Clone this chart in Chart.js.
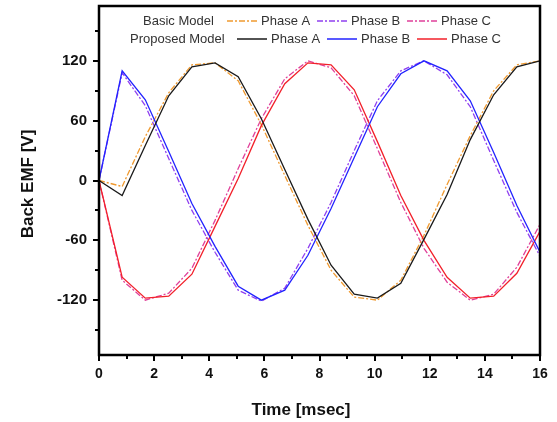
<!DOCTYPE html>
<html>
<head>
<meta charset="utf-8">
<script src="https://cdn.jsdelivr.net/npm/chart.js@4.4.1/dist/chart.umd.min.js"></script>
<style>
  html, body { margin: 0; padding: 0; background: #fff; }
</style>
</head>
<body>
<canvas id="emf" width="557" height="422"></canvas>
<script>
// ===== DATA =====
// sampling instants [msec]
const timeMs = [0, 0.84, 1.68, 2.53, 3.37, 4.21, 5.05, 5.89, 6.74, 7.58, 8.42, 9.26, 10.1, 10.95, 11.79, 12.63, 13.47, 14.32, 15.16, 16]

// Basic Model back EMF [V]
const basicA = [0, -6, 44, 88, 116, 118, 100, 56, 5, -45, -90, -117, -120, -100, -55, -4, 45, 90, 116, 120]
const basicB = [0, 108, 75, 22, -30, -72, -110, -121, -108, -68, -22, 30, 80, 110, 120, 106, 74, 20, -32, -76]
const basicC = [0, -100, -120, -113, -88, -40, 12, 62, 102, 120, 113, 85, 32, -22, -68, -102, -120, -114, -87, -44]

// Proposed Model back EMF [V]
const proposedA = [0, -15, 35, 85, 114, 118, 104, 62, 11, -39, -85, -114, -118, -103, -59, -14, 41, 86, 114, 120]
const proposedB = [0, 110, 81, 29, -23, -66, -106, -120, -110, -75, -28, 23, 74, 107, 120, 110, 80, 28, -25, -72]
const proposedC = [0, -97, -118, -116, -94, -46, 2, 55, 97, 118, 116, 91, 39, -15, -60, -97, -118, -116, -93, -51]

// axis ticks
const xMajorTicks = [0, 2, 4, 6, 8, 10, 12, 14, 16]
const xMinorTicks = [1, 3, 5, 7, 9, 11, 13, 15]
const yMajorTicks = [-120, -60, 0, 60, 120]
const yMinorTicks = [-150, -90, -30, 30, 90, 150]

const FONT = '"Liberation Sans", Arial, sans-serif'
const DASH_DOT = [6, 2, 2, 2]

function toPoints(values) {
  return timeMs.map((t, i) => ({ x: t, y: values[i] }))
}

function makeSet(label, values, color, dash) {
  return {
    label: label,
    data: toPoints(values),
    borderColor: color,
    backgroundColor: color,
    borderWidth: 1.3,
    borderDash: dash,
    pointRadius: 0,
    tension: 0,
    fill: false
  }
}

const datasets = [
  makeSet('Proposed Phase A', proposedA, '#1a1a1a', []),
  makeSet('Proposed Phase B', proposedB, '#2222ff', []),
  makeSet('Proposed Phase C', proposedC, '#f2202a', []),
  makeSet('Basic Phase A', basicA, '#f09a30', DASH_DOT),
  makeSet('Basic Phase B', basicB, '#9040f0', DASH_DOT),
  makeSet('Basic Phase C', basicC, '#e0409a', DASH_DOT)
]

// ===== FRAME, TICKS, TITLES, LEGEND =====
const decorPlugin = {
  id: 'decor',
  afterDraw(chart) {
    const ctx = chart.ctx
    const area = chart.chartArea
    const xs = chart.scales.x
    const ys = chart.scales.y
    ctx.save()

    // tick marks
    ctx.strokeStyle = '#000'
    ctx.lineWidth = 2
    ctx.beginPath()
    yMajorTicks.forEach(v => {
      const p = Math.round(ys.getPixelForValue(v))
      ctx.moveTo(area.left, p); ctx.lineTo(area.left - 6, p)
    })
    yMinorTicks.forEach(v => {
      const p = Math.round(ys.getPixelForValue(v))
      ctx.moveTo(area.left, p); ctx.lineTo(area.left - 4, p)
    })
    xMajorTicks.forEach(v => {
      const p = Math.round(xs.getPixelForValue(v))
      ctx.moveTo(p, area.bottom); ctx.lineTo(p, area.bottom + 6)
    })
    xMinorTicks.forEach(v => {
      const p = Math.round(xs.getPixelForValue(v))
      ctx.moveTo(p, area.bottom); ctx.lineTo(p, area.bottom + 4)
    })
    ctx.stroke()

    // frame
    ctx.lineWidth = 2.5
    ctx.strokeRect(area.left, area.top, area.right - area.left, area.bottom - area.top)

    // axis titles
    ctx.fillStyle = '#111'
    ctx.font = 'bold 17px ' + FONT
    ctx.textAlign = 'center'
    ctx.textBaseline = 'middle'
    ctx.fillText('Time [msec]', 301, 410)
    ctx.save()
    ctx.translate(28, 184)
    ctx.rotate(-Math.PI / 2)
    ctx.fillText('Back EMF [V]', 0, 0)
    ctx.restore()

    // legend
    ctx.font = '13px ' + FONT
    ctx.textAlign = 'left'
    const rows = [
      { y: 21, head: 'Basic Model', headX: 143, sets: [3, 4, 5], lineX: [227, 317, 407] },
      { y: 39, head: 'Proposed Model', headX: 130, sets: [0, 1, 2], lineX: [237, 327, 417] }
    ]
    const names = ['Phase A', 'Phase B', 'Phase C']
    rows.forEach(row => {
      ctx.fillStyle = '#333'
      ctx.fillText(row.head, row.headX, row.y)
      row.sets.forEach((di, k) => {
        const ds = chart.data.datasets[di]
        const lx = row.lineX[k]
        ctx.strokeStyle = ds.borderColor
        ctx.lineWidth = 1.5
        ctx.setLineDash(ds.borderDash)
        ctx.beginPath()
        ctx.moveTo(lx, row.y); ctx.lineTo(lx + 30, row.y)
        ctx.stroke()
        ctx.setLineDash([])
        ctx.fillStyle = '#333'
        ctx.fillText(names[k], lx + 34, row.y)
      })
    })
    ctx.restore()
  }
}

new Chart(document.getElementById('emf'), {
  type: 'line',
  data: { datasets: datasets },
  options: {
    responsive: false,
    devicePixelRatio: 1,
    animation: false,
    layout: { padding: { top: 6, right: 17, bottom: 0, left: 0 } },
    plugins: {
      legend: { display: false },
      tooltip: { enabled: false }
    },
    scales: {
      x: {
        type: 'linear',
        min: 0,
        max: 16,
        // grid hidden: tickLength only sets the label offset, marks are drawn by the plugin
        grid: { display: false, drawTicks: true, tickLength: 11 },
        border: { display: false },
        ticks: {
          stepSize: 2,
          maxRotation: 0,
          padding: 0,
          color: '#111',
          font: { family: FONT, size: 14, weight: 'bold' }
        },
        afterFit: scale => { scale.height = 67 }
      },
      y: {
        type: 'linear',
        min: -175,
        max: 175,
        grid: { display: false, drawTicks: true, tickLength: 12 },
        border: { display: false },
        afterBuildTicks: scale => { scale.ticks = yMajorTicks.map(v => ({ value: v })) },
        ticks: {
          padding: 0,
          color: '#111',
          font: { family: FONT, size: 15, weight: 'bold', lineHeight: 0.7 }
        },
        afterFit: scale => { scale.width = 99 }
      }
    }
  },
  plugins: [decorPlugin]
})
</script>
</body>
</html>
